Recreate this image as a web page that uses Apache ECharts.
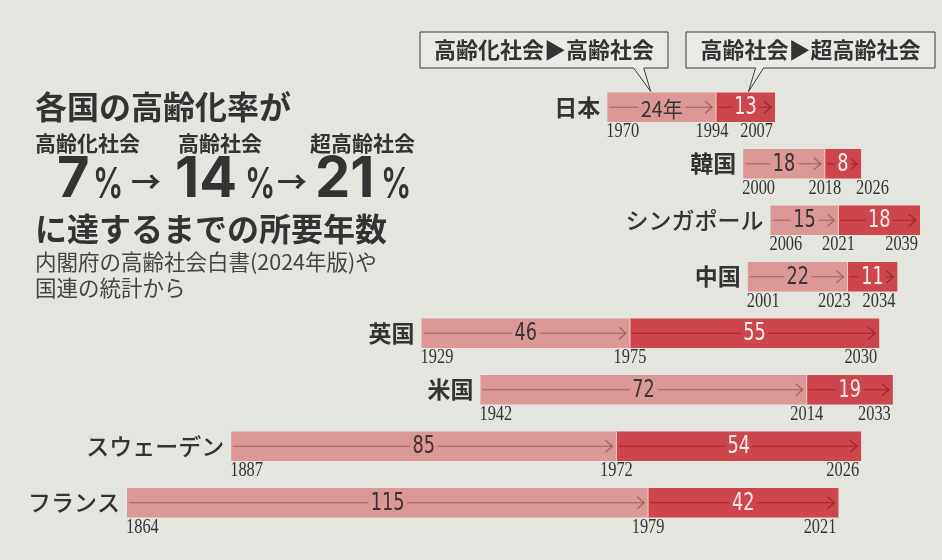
<!DOCTYPE html>
<html>
<head>
<meta charset="utf-8">
<script src="https://cdn.jsdelivr.net/npm/echarts@6/dist/echarts.min.js"></script>
<style>
  html, body { margin: 0; padding: 0; background: #e4e5df; }
  #chart { width: 942px; height: 560px; }
</style>
</head>
<body>
<div id="chart"></div>
<script>
// 高齢化率 7% / 14% / 21% に達した年
const countries = ["日本", "韓国", "シンガポール", "中国", "英国", "米国", "スウェーデン", "フランス"];
const year7 = [1970, 2000, 2006, 2001, 1929, 1942, 1887, 1864];
const year14 = [1994, 2018, 2021, 2023, 1975, 2014, 1972, 1979];
const year21 = [2007, 2026, 2039, 2034, 2030, 2033, 2026, 2021];
const years7to14 = [24, 18, 15, 22, 46, 72, 85, 115];
const years14to21 = [13, 8, 18, 11, 55, 19, 54, 42];

const LIGHT = "#db9896";
const DARK = "#cd464c";
const INK = "#333333";
const JP = "'Noto Sans CJK JP', sans-serif";
const NUM = "'DejaVu Sans Condensed', 'Liberation Sans Narrow', sans-serif";
const SERIF = "'Liberation Serif', 'DejaVu Serif', serif";
const BIG = "Inter, Roboto, sans-serif";
const YEAR_W = 34; // 年ラベルのおおよその幅

const chart = echarts.init(document.getElementById("chart"));

const rows = countries.map((c, i) => [c, year7[i], year14[i], year21[i], years7to14[i], years14to21[i]]);

function arrow(x0, x1, cy, color) {
  return [
    { type: "line", shape: { x1: x0 + 2, y1: cy, x2: x1 - 4, y2: cy }, style: { stroke: color, lineWidth: 1.2 } },
    {
      type: "polyline",
      shape: { points: [[x1 - 11, cy - 6], [x1 - 4, cy], [x1 - 11, cy + 6]] },
      style: { stroke: color, lineWidth: 1.2, fill: null }
    }
  ];
}

function narrowText(text, x, y, align, font, fill, sx, bg) {
  const style = { text: text, x: 0, y: 0, align: align, verticalAlign: "middle", font: font, fill: fill };
  if (bg) {
    style.backgroundColor = bg;
    style.padding = [0, 3];
  }
  return { type: "text", x: x, y: y, scaleX: sx, style: style };
}

function renderItem(params, api) {
  const idx = params.dataIndex;
  const c = api.value(0);
  const a = api.coord([api.value(1), c]);
  const b = api.coord([api.value(2), c]);
  const e = api.coord([api.value(3), c]);
  const h = api.size([0, 1])[1] * 0.52;
  const cy = a[1];
  const top = cy - h / 2;
  const bottom = cy + h / 2;
  const name = countries[idx];
  const kata = /^[\u30A0-\u30FF]+$/.test(name);

  // 年ラベルが重ならないように位置をずらす
  const shortTail = e[0] - b[0] < 40;
  let endX = e[0] - 2, endAlign = "right", endLeft = e[0] - 2 - YEAR_W;
  if (shortTail) {
    endX = e[0] - 5;
    endAlign = "left";
    endLeft = endX;
  }
  let midX = b[0];
  if (!shortTail && midX + YEAR_W / 2 > endLeft - 10) midX = endLeft - 10 - YEAR_W / 2;

  const yearFont = "20px " + SERIF;
  const yy = bottom + 10;

  const children = [
    { type: "rect", shape: { x: a[0], y: top, width: b[0] - a[0], height: h }, style: { fill: LIGHT } },
    { type: "rect", shape: { x: b[0], y: top, width: e[0] - b[0], height: h }, style: { fill: DARK } },
    { type: "line", shape: { x1: b[0], y1: top, x2: b[0], y2: bottom }, style: { stroke: "rgba(255,235,230,0.7)", lineWidth: 1 } }
  ]
    .concat(arrow(a[0], b[0], cy, "rgba(140,80,78,0.75)"))
    .concat(arrow(b[0], e[0], cy, "rgba(140,30,36,0.75)"))
    .concat([
      idx === 0
        ? narrowText(api.value(4) + "年", (a[0] + b[0]) / 2, cy + 1, "center", "22px " + JP, "#3a3434", 0.9, LIGHT)
        : narrowText(String(api.value(4)), (a[0] + b[0]) / 2, cy + 1, "center", "24px " + NUM, "#3a3434", 0.82, LIGHT),
      narrowText(String(api.value(5)), (b[0] + e[0]) / 2, cy + 1, "center", "24px " + NUM, "#fbeceb", 0.82, DARK),
      {
        type: "text",
        style: {
          text: name, x: a[0] - 7, y: cy,
          align: "right", verticalAlign: "middle",
          font: (kata ? "500 " : "bold ") + "23px " + JP, fill: INK
        }
      },
      narrowText(String(api.value(1)), a[0] - 1, yy, "left", yearFont, INK, 0.82),
      narrowText(String(api.value(2)), midX, yy, "center", yearFont, INK, 0.82),
      narrowText(String(api.value(3)), endX, yy, endAlign, yearFont, INK, 0.82)
    ]);
  return { type: "group", children: children };
}

// 見出しの数字は同じベースラインにそろえる
function baseText(id, x, baseline, text, font, size, sx) {
  return {
    type: "text", id: id, x: x, y: baseline - size * 0.36, scaleX: sx || 1,
    style: { text: text, font: font, fill: INK, align: "left", verticalAlign: "middle" }
  };
}
function midText(id, x, cy, text, font, fill) {
  return {
    type: "text", id: id, x: x, y: cy,
    style: { text: text, font: font, fill: fill || INK, align: "left", verticalAlign: "middle" }
  };
}

const titleGraphics = [
  midText("t1", 35, 107, "各国の高齢化率が", "bold 32px " + JP),
  midText("s1", 35, 143, "高齢化社会", "bold 21px " + JP),
  midText("s2", 178, 143, "高齢社会", "bold 21px " + JP),
  midText("s3", 310, 143, "超高齢社会", "bold 21px " + JP),
  baseText("n1", 57, 200, "7", "bold 56px " + BIG, 56),
  baseText("p1", 93, 200, "%", "600 42px " + BIG, 42, 0.72),
  midText("a1", 131, 182, "→", "bold 30px " + JP),
  baseText("n2", 175, 200, "14", "bold 56px " + BIG, 56),
  baseText("p2", 245, 200, "%", "600 42px " + BIG, 42, 0.72),
  midText("a2", 277, 182, "→", "bold 30px " + JP),
  baseText("n3", 315, 200, "21", "bold 56px " + BIG, 56),
  baseText("p3", 381, 200, "%", "600 42px " + BIG, 42, 0.72),
  midText("t2", 35, 229, "に達するまでの所要年数", "bold 32px " + JP),
  midText("c1", 35, 262, "内閣府の高齢社会白書(2024年版)や", "21.5px " + JP, "#444"),
  midText("c2", 35, 288, "国連の統計から", "21.5px " + JP, "#444")
];

chart.setOption({
  backgroundColor: "#e4e5df",
  animation: false,
  grid: { left: 127, right: 22, top: 79, bottom: 29 },
  xAxis: {
    type: "value",
    min: Math.min(...year7),
    max: Math.max(...year21),
    show: false
  },
  yAxis: {
    type: "category",
    data: countries,
    inverse: true,
    show: false
  },
  graphic: titleGraphics,
  series: [
    {
      type: "custom",
      clip: false,
      renderItem: renderItem,
      encode: { x: [1, 2, 3], y: 0 },
      data: rows
    }
  ]
});

// 吹き出しは日本の棒を指す
const p0 = chart.convertToPixel({ gridIndex: 0 }, [(year7[0] + year14[0]) / 2, countries[0]]);
const q0 = chart.convertToPixel({ gridIndex: 0 }, [(year14[0] + year21[0]) / 2, countries[0]]);
const p1 = chart.convertToPixel({ gridIndex: 0 }, [year7[0], countries[1]]);
const barTop = p0[1] - (p1[1] - p0[1]) * 0.26;

function callout(id, left, right, tip, base1, base2, text) {
  const T = 32, B = 68;
  return [
    {
      type: "polygon", id: id + "-box",
      shape: { points: [[left, T], [right, T], [right, B], [base2, B], tip, [base1, B], [left, B]] },
      style: { fill: "#e9eae5", stroke: "#3a3a3a", lineWidth: 1 }
    },
    {
      type: "text", id: id + "-txt", x: (left + right) / 2, y: (T + B) / 2,
      style: { text: text, font: "bold 22px " + JP, fill: INK, align: "center", verticalAlign: "middle" }
    }
  ];
}

const tip1 = [p0[0] - 11, barTop - 1];
const tip2 = [q0[0] + 3, barTop - 1];
chart.setOption({
  graphic: titleGraphics
    .concat(callout("b1", 420, 668, tip1, tip1[0] - 17, tip1[0] - 7, "高齢化社会▶高齢社会"))
    .concat(callout("b2", 686, 935, tip2, tip2[0] + 7, tip2[0] + 15, "高齢社会▶超高齢社会"))
});

window.addEventListener("resize", () => chart.resize());
</script>
</body>
</html>
